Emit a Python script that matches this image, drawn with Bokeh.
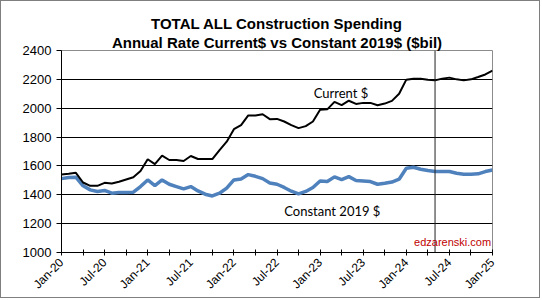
from math import pi
from bokeh.plotting import figure
from bokeh.models import FixedTicker, Span, Label, Title, Range1d
from bokeh.embed import file_html
from bokeh.resources import INLINE

# ---- data (monthly, Jan-20 .. Jan-25) ----
month_index = list(range(61))
tick_positions = [0, 6, 12, 18, 24, 30, 36, 42, 48, 54, 60]
tick_labels = ["Jan-20", "Jul-20", "Jan-21", "Jul-21", "Jan-22", "Jul-22",
               "Jan-23", "Jul-23", "Jan-24", "Jul-24", "Jan-25"]
current_dollars = [1540, 1545, 1552, 1485, 1462, 1462, 1483, 1478, 1490, 1506,
                   1522, 1565, 1646, 1613, 1671, 1641, 1641, 1634, 1669, 1648,
                   1648, 1648, 1710, 1768, 1855, 1883, 1950, 1950, 1958, 1924,
                   1926, 1908, 1883, 1862, 1876, 1908, 1990, 1992, 2044, 2021,
                   2052, 2030, 2037, 2037, 2021, 2032, 2051, 2100, 2198, 2205,
                   2205, 2198, 2193, 2205, 2212, 2200, 2193, 2200, 2216, 2234,
                   2260]
constant_2019 = [1512, 1520, 1522, 1462, 1434, 1423, 1430, 1411, 1416, 1416,
                 1418, 1457, 1503, 1464, 1503, 1473, 1457, 1441, 1457, 1427,
                 1404, 1392, 1411, 1446, 1503, 1510, 1540, 1528, 1512, 1482,
                 1473, 1451, 1425, 1406, 1423, 1451, 1496, 1492, 1524, 1505,
                 1526, 1499, 1496, 1492, 1473, 1480, 1488, 1508, 1584, 1591,
                 1577, 1568, 1561, 1561, 1561, 1549, 1542, 1542, 1545, 1561,
                 1572]
y_ticks = [1000, 1200, 1400, 1600, 1800, 2000, 2200, 2400]
marker_month = 52  # May-24 divider

p = figure(width=540, height=298, output_backend="svg", toolbar_location=None,
           title=None, x_range=Range1d(0, 60), y_range=Range1d(1000, 2400),
           min_border_left=60, min_border_right=49, min_border_top=49,
           min_border_bottom=43)
p.styles = {"border": "1px solid #7f7f7f"}
p.background_fill_color = "white"
p.border_fill_color = "white"
p.outline_line_color = "#8c8c8c"
p.outline_line_width = 1

t2 = Title(text="Annual Rate Current$ vs Constant 2019$ ($bil)", align="center",
           text_font="Liberation Sans", text_font_size="15px",
           text_font_style="bold", text_color="black", standoff=0,
           text_line_height=1.0)
t1 = Title(text="TOTAL ALL Construction Spending", align="center",
           text_font="Liberation Sans", text_font_size="15px",
           text_font_style="bold", text_color="black", standoff=0,
           text_line_height=1.0)
p.add_layout(t2, "above")
p.add_layout(t1, "above")

p.xgrid.visible = False
p.ygrid.grid_line_color = "black"
p.ygrid.grid_line_width = 1

p.yaxis.ticker = FixedTicker(ticks=y_ticks)
p.yaxis.major_label_text_font = "Liberation Sans"
p.yaxis.major_label_text_font_size = "13px"
p.yaxis.major_label_text_color = "black"
p.yaxis.major_tick_out = 5
p.yaxis.major_tick_in = 0
p.yaxis.minor_tick_line_color = None
p.yaxis.axis_line_color = "black"
p.yaxis.major_tick_line_color = "black"

minor = [3, 9, 15, 21, 27, 33, 39, 45, 51, 57]
p.xaxis.ticker = FixedTicker(ticks=tick_positions, minor_ticks=minor)
p.xaxis.major_label_overrides = {t: l for t, l in zip(tick_positions, tick_labels)}
p.xaxis.major_label_orientation = pi / 4
p.xaxis.major_label_text_font = "Liberation Sans"
p.xaxis.major_label_text_font_size = "12px"
p.xaxis.major_label_text_color = "black"
p.xaxis.major_tick_in = 3
p.xaxis.major_tick_out = 3
p.xaxis.minor_tick_in = 3
p.xaxis.minor_tick_out = 3
p.xaxis.axis_line_color = "black"
p.xaxis.major_tick_line_color = "black"
p.xaxis.minor_tick_line_color = "black"

p.add_layout(Span(location=marker_month, dimension="height",
                  line_color="#222222", line_width=1))

p.line(month_index, constant_2019, line_color="#4f81bd", line_width=3.5)
p.line(month_index, current_dollars, line_color="black", line_width=2)

p.add_layout(Label(x=38.9, y=2108, text="Current $", text_align="center",
                   text_baseline="middle", text_font="Lato",
                   text_font_size="13px", text_color="black"))
p.add_layout(Label(x=37.7, y=1287, text="Constant 2019 $", text_align="center",
                   text_baseline="middle", text_font="Lato",
                   text_font_size="13px", text_color="black"))
p.add_layout(Label(x=59.8, y=1072, text="edzarenski.com", text_align="right",
                   text_baseline="middle", text_font="Liberation Sans",
                   text_font_size="11px", text_color="#c00000"))

open("out.html", "w").write(file_html(p, INLINE))
